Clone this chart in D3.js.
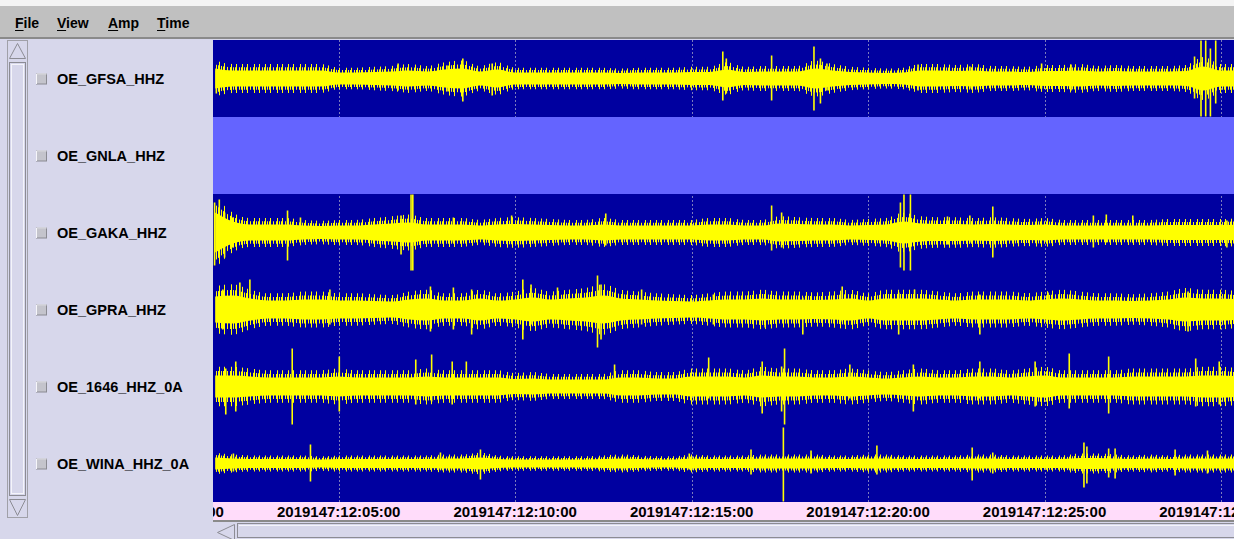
<!doctype html>
<html>
<head>
<meta charset="utf-8">
<title>Seismogram viewer</title>
<script src="https://cdn.jsdelivr.net/npm/d3@7"></script>
<style>
  html, body { margin: 0; padding: 0; background: #ffffff; }
  #svg { position: absolute; width: 1234px; height: 541px; overflow: hidden; }
  text { font-family: "Liberation Sans", Arial, sans-serif; font-weight: bold; }
</style>
<script>
// station names, top to bottom
const stations = ["OE_GFSA_HHZ", "OE_GNLA_HHZ", "OE_GAKA_HHZ", "OE_GPRA_HHZ", "OE_1646_HHZ_0A", "OE_WINA_HHZ_0A"];
// GNLA has no data in this window (shown as a light row)
const noData = ["OE_GNLA_HHZ"];

const menuItems = ["File", "View", "Amp", "Time"];

// seconds after 2019-147 12:00:00 UTC
const timeStart = 86.3;
const timeEnd = 1822.1;
const sampleTimes = d3.range(90, 1831, 30);

// envelope half-width of the noise band, one value per sample time (amplitude units)
const levelGFSA = [10, 8, 8, 8, 8, 8, 8, 6, 6, 6.5, 7, 8, 7, 9, 10, 7, 9, 6, 6, 6, 6, 6, 6, 5.5, 6, 6, 6, 6.5, 6.5, 9, 6.5, 7, 7, 7, 10, 8, 6.5, 6, 5.5, 6, 8, 8, 7.5, 8, 7, 7, 6.5, 7.5, 7.5, 8, 7, 7.5, 7, 7, 7, 7.5, 12, 8, 8];
const levelGAKA = [20, 11, 8, 8, 8, 7, 6.5, 7, 7, 8, 9, 10, 8, 8, 8, 7, 8, 8.5, 8, 7.5, 7, 7, 8, 7, 7, 7, 7, 7, 8, 8, 7, 7, 9, 8.5, 8, 8, 7, 7.5, 8, 11, 9, 8.5, 8.5, 8, 8.5, 8, 7.5, 8, 7, 7, 7, 7, 7, 7, 7.5, 7.5, 7.5, 7.5, 8];
const levelGPRA = [13, 14, 11, 9, 9, 10, 10, 9, 9, 8.5, 8, 10, 11, 9, 9, 11, 9, 10, 12, 10, 11, 12, 14, 11, 10, 9, 8.5, 8, 9, 10, 10, 11, 10, 10, 9.5, 10, 11, 9, 11, 11, 11, 10, 9, 10, 10, 10, 9, 10, 11, 10, 9, 9, 8.5, 9, 10, 12, 11, 11, 10];
const level1646 = [11, 11, 10, 9, 9, 9, 9, 10, 9, 9, 9, 9, 10, 9, 9, 9, 9, 7.5, 8, 7, 7, 7, 7, 9, 9, 8, 8, 10, 10, 10, 9, 11, 10, 10, 9, 9, 10, 9, 8, 9, 10, 9, 9, 10, 10, 9, 10, 11, 9, 9, 9, 9, 10, 10, 10, 10, 11, 11, 10];
const levelWINA = [6, 5, 4.5, 4.5, 4.5, 4.5, 4, 4.5, 4.5, 4.5, 4.5, 4.5, 4.5, 5, 5, 6, 4.5, 4, 4, 4, 4, 4, 4.5, 5, 4.5, 4, 4, 5, 4.5, 4.5, 4.5, 5, 5, 5, 5, 4.5, 4.5, 5, 5, 4.5, 4.5, 4.5, 4.5, 5, 5, 4.5, 4.5, 4.5, 4.5, 5.5, 5.5, 5, 4.5, 5, 4.5, 5, 5, 5, 5];

// spikes: [seconds, up, down]
const spikesGFSA = [[92, 8, 15], [401, 15, 12], [484, 13, 13], [511, 20, 23], [561, 15, 17], [953, 27, 22], [959, 20, 15], [1036, 23, 22], [1108, 32, 32], [1119, 20, 25], [1130, 15, 12], [1285, 14, 12], [1373, 12, 10], [1495, 15, 10], [1545, 14, 12], [1755, 22, 20], [1766, 38, 38], [1774, 38, 38], [1782, 30, 38], [1791, 38, 25]];
const spikesGAKA = [[89, 30, 33], [97, 33, 25], [106, 20, 25], [119, 15, 15], [213, 22, 28], [235, 15, 8], [406, 17, 22], [423, 38, 38], [426, 38, 38], [495, 15, 10], [594, 17, 10], [754, 19, 13], [1036, 27, 18], [1053, 20, 15], [1255, 30, 35], [1261, 38, 38], [1272, 38, 38], [1335, 16, 12], [1373, 17, 10], [1412, 26, 25], [1583, 17, 15], [1605, 18, 10], [1650, 17, 10], [1810, 12, 15]];
const spikesGPRA = [[103, 20, 20], [132, 27, 12], [149, 30, 10], [285, 20, 15], [456, 23, 22], [495, 22, 20], [526, 20, 25], [613, 30, 30], [627, 25, 15], [672, 22, 10], [740, 34, 38], [746, 25, 30], [815, 20, 15], [937, 15, 15], [1025, 15, 18], [1089, 12, 25], [1156, 23, 12], [1252, 17, 25], [1279, 20, 15], [1390, 15, 25], [1506, 17, 10], [1744, 18, 22]];
const spikes1646 = [[108, 18, 28], [125, 25, 25], [221, 38, 38], [301, 30, 25], [431, 27, 18], [458, 32, 15], [493, 25, 18], [517, 25, 12], [769, 22, 10], [929, 29, 12], [1020, 25, 27], [1053, 20, 25], [1058, 38, 38], [1169, 22, 12], [1277, 22, 25], [1390, 25, 12], [1484, 25, 20], [1542, 33, 22], [1609, 30, 27], [1757, 28, 20], [1797, 25, 18]];
const spikesWINA = [[121, 10, 8], [252, 19, 18], [473, 11, 6], [541, 14, 16], [896, 10, 6], [1001, 14, 11], [1056, 36, 38], [1103, 13, 10], [1215, 18, 11], [1377, 16, 17], [1412, 11, 10], [1567, 21, 24], [1572, 17, 20], [1609, 15, 14], [1620, 15, 15], [1722, 14, 12], [1777, 13, 10]];

const levels = { "OE_GFSA_HHZ": levelGFSA, "OE_GAKA_HHZ": levelGAKA, "OE_GPRA_HHZ": levelGPRA, "OE_1646_HHZ_0A": level1646, "OE_WINA_HHZ_0A": levelWINA };
const spikes = { "OE_GFSA_HHZ": spikesGFSA, "OE_GAKA_HHZ": spikesGAKA, "OE_GPRA_HHZ": spikesGPRA, "OE_1646_HHZ_0A": spikes1646, "OE_WINA_HHZ_0A": spikesWINA };

document.addEventListener("DOMContentLoaded", function () {
    const W = 1234, H = 541;
    const plotL = 213, plotR = 1234, plotT = 40, plotB = 502;
    const t0 = Date.UTC(2019, 4, 27, 12, 0, 0);
    const toDate = s => new Date(t0 + s * 1000);

    const svg = d3.select("#svg").append("svg")
        .attr("width", W).attr("height", H);
    const defs = svg.append("defs");

    // hatch patterns used for the ragged edge of the noise band
    // (irregular stripe offsets so it does not look like a grid)
    const hatch = (id, stripes) => {
        const p = defs.append("pattern").attr("id", id).attr("patternUnits", "userSpaceOnUse")
            .attr("width", 23).attr("height", 4);
        stripes.forEach(st => p.append("rect").attr("x", st[0]).attr("y", 0)
            .attr("width", st[1]).attr("height", 4).attr("fill", "#ffff00"));
    };
    hatch("fringeIn", [[0, 1.5], [3, 1], [5, 2], [9, 1], [11, 1.5], [14, 1], [16, 2], [20, 1]]);
    hatch("fringeOut", [[1, 1], [6, 1], [12, 1], [17, 1]]);

    // window background + menu bar
    svg.append("rect").attr("x", 0).attr("y", 0).attr("width", W).attr("height", H).attr("fill", "#d7d7eb");
    svg.append("rect").attr("x", 0).attr("y", 0).attr("width", W).attr("height", 6).attr("fill", "#f4f4f4");
    svg.append("rect").attr("x", 0).attr("y", 6).attr("width", W).attr("height", 31).attr("fill", "#c0c0c0");
    svg.append("rect").attr("x", 0).attr("y", 37).attr("width", W).attr("height", 2).attr("fill", "#8a8a8a");

    const menuX = [15, 57, 108, 157];
    menuItems.forEach((m, i) => {
        const t = svg.append("text").attr("x", menuX[i]).attr("y", 28)
            .attr("font-size", 14).attr("fill", "#000").text(m);
        const firstW = t.node().getSubStringLength(0, 1);
        svg.append("line").attr("x1", menuX[i]).attr("x2", menuX[i] + firstW)
            .attr("y1", 30.5).attr("y2", 30.5).attr("stroke", "#000").attr("stroke-width", 1);
    });

    // vertical scroll bar
    const vs = svg.append("g");
    vs.append("rect").attr("x", 7.5).attr("y", 40.5).attr("width", 20).attr("height", 477)
        .attr("fill", "#d7d7eb").attr("stroke", "#a0a0a8");
    vs.append("rect").attr("x", 9.5).attr("y", 62.5).attr("width", 16).attr("height", 433)
        .attr("fill", "#d7d7eb").attr("stroke", "#8c8c94");
    vs.append("rect").attr("x", 11.5).attr("y", 64.5).attr("width", 12).attr("height", 429)
        .attr("fill", "none").attr("stroke", "#f4f4fa");
    vs.append("path").attr("d", "M9.5,58.5 L17.5,43.5 L25.5,58.5 Z").attr("fill", "#d7d7eb").attr("stroke", "#8c8c94");
    vs.append("path").attr("d", "M9.5,499.5 L17.5,515.5 L25.5,499.5 Z").attr("fill", "#d7d7eb").attr("stroke", "#8c8c94");

    // rows
    const row = d3.scaleBand().domain(stations).range([plotT, plotB]);
    const x = d3.scaleUtc().domain([toDate(timeStart), toDate(timeEnd)]).range([plotL, plotR]);

    // station labels with checkboxes
    stations.forEach(s => {
        const cy = row(s) + row.bandwidth() / 2;
        svg.append("rect").attr("x", 36.5).attr("y", cy - 4.5).attr("width", 10).attr("height", 10)
            .attr("fill", "#c4c4cc").attr("stroke", "#8a8a92");
        svg.append("path").attr("d", `M36.5,${cy + 5.5} L36.5,${cy - 4.5} L46.5,${cy - 4.5}`)
            .attr("fill", "none").attr("stroke", "#f6f6fa");
        svg.append("text").attr("x", 57).attr("y", cy + 5.5).attr("font-size", 14.5)
            .attr("fill", "#000").text(s);
    });

    // plot area
    defs.append("clipPath").attr("id", "plotclip").append("rect")
        .attr("x", plotL).attr("y", plotT).attr("width", plotR - plotL).attr("height", plotB - plotT + 20);

    const plot = svg.append("g").attr("clip-path", "url(#plotclip)");
    plot.append("rect").attr("x", plotL).attr("y", plotT).attr("width", plotR - plotL).attr("height", plotB - plotT)
        .attr("fill", "#0000a0");

    const ticks = x.ticks(d3.utcMinute.every(5));
    plot.selectAll("line.grid").data(ticks).join("line")
        .attr("class", "grid")
        .attr("x1", d => Math.round(x(d)) + 0.5).attr("x2", d => Math.round(x(d)) + 0.5)
        .attr("y1", plotT).attr("y2", plotB)
        .attr("stroke", "#7c7cbc").attr("stroke-width", 1).attr("stroke-dasharray", "2,2");

    stations.forEach(s => {
        const top = row(s), bot = top + row.bandwidth();
        const g = plot.append("g");
        const id = "clip_" + s;
        defs.append("clipPath").attr("id", id).append("rect")
            .attr("x", plotL).attr("y", top).attr("width", plotR - plotL).attr("height", row.bandwidth());
        g.attr("clip-path", `url(#${id})`);

        if (noData.includes(s)) {
            g.append("rect").attr("x", plotL).attr("y", top).attr("width", plotR - plotL)
                .attr("height", row.bandwidth()).attr("fill", "#6464ff");
            return;
        }
        const y = d3.scaleLinear().domain([-38.5, 38.5]).range([bot, top]);
        const lv = levels[s];
        const pts = sampleTimes.map((t, i) => [t, lv[i]]);
        // band drawn in three layers: sparse outer fringe, dense inner fringe, solid core
        const band = k => d3.area()
            .x(d => x(toDate(d[0])))
            .y0(d => y(-d[1] * k))
            .y1(d => y(d[1] * k))
            .curve(d3.curveMonotoneX);
        g.append("path").datum(pts).attr("d", band(1.8)).attr("fill", "url(#fringeOut)");
        g.append("path").datum(pts).attr("d", band(1.4)).attr("fill", "url(#fringeIn)");
        g.append("path").datum(pts).attr("d", band(1.0)).attr("fill", "#ffff00");

        g.selectAll("line.spike").data(spikes[s]).join("line")
            .attr("class", "spike")
            .attr("x1", d => x(toDate(d[0]))).attr("x2", d => x(toDate(d[0])))
            .attr("y1", d => y(d[1])).attr("y2", d => y(-d[2]))
            .attr("stroke", "#ffff00").attr("stroke-width", 1.6);
    });

    // time axis band
    const axisG = svg.append("g").attr("clip-path", "url(#plotclip)");
    axisG.append("rect").attr("x", plotL).attr("y", plotB).attr("width", plotR - plotL).attr("height", 18)
        .attr("fill", "#ffdcfa");
    const fmt = d3.utcFormat("%Y%j:%H:%M:%S");
    const labelTicks = d3.utcMinute.every(5).range(toDate(0), toDate(timeEnd + 300));
    axisG.selectAll("text.tl").data(labelTicks).join("text")
        .attr("class", "tl")
        .attr("x", d => x(d)).attr("y", plotB + 14.5)
        .attr("text-anchor", "middle").attr("font-size", 15).attr("fill", "#000")
        .text(d => fmt(d));

    // bottom horizontal scroll bar
    svg.append("rect").attr("x", plotL).attr("y", 520).attr("width", plotR - plotL).attr("height", 2).attr("fill", "#8a8a8a");
    svg.append("rect").attr("x", plotL).attr("y", 522).attr("width", plotR - plotL).attr("height", 19).attr("fill", "#d7d7eb");
    svg.append("rect").attr("x", 237.5).attr("y", 523.5).attr("width", 1000).attr("height", 14)
        .attr("fill", "#d7d7eb").attr("stroke", "#8c8c94");
    svg.append("line").attr("x1", 239).attr("x2", 1234).attr("y1", 525.5).attr("y2", 525.5).attr("stroke", "#f4f4fa");
    svg.append("path").attr("d", "M234.5,524.5 L217.5,532.5 L234.5,540.5 Z").attr("fill", "#d7d7eb").attr("stroke", "#8c8c94");
    svg.append("rect").attr("x", 0).attr("y", 539).attr("width", W).attr("height", 2).attr("fill", "#ffffff");
});
</script>
</head>
<body>
<div id="svg"></div>
</body>
</html>
